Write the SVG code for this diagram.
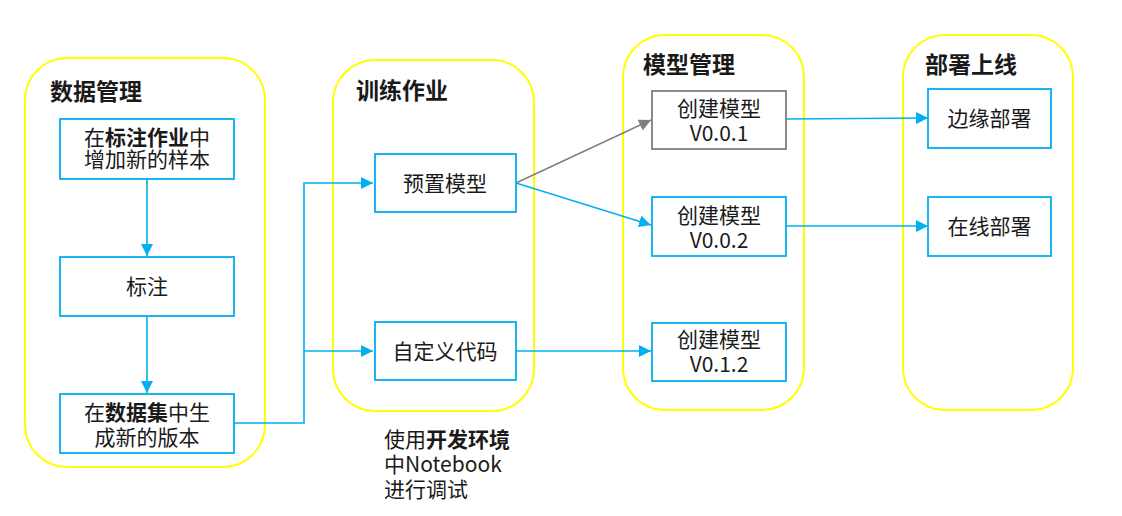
<svg xmlns="http://www.w3.org/2000/svg" width="1122" height="516" viewBox="0 0 1122 516">
<style>
.bg{fill:#ffffff}
.grp{fill:none;stroke:#ffff00;stroke-width:2}
.box{fill:#ffffff;stroke:#00b0f0;stroke-width:1.8}
.gbox{fill:#ffffff;stroke:#7f7f7f;stroke-width:1.8}
text{font-family:"Noto Sans CJK SC","Microsoft YaHei",sans-serif;fill:#1a1a1a}
.t{font-size:23px;font-weight:bold}
.l{font-size:21px;text-anchor:middle}
.n{font-size:21px}
.c{fill:none;stroke:#00b0f0;stroke-width:1.6}
.g{fill:none;stroke:#7f7f7f;stroke-width:1.4}
</style>
<defs>
<marker id="ab" markerUnits="userSpaceOnUse" markerWidth="14" markerHeight="12" refX="12" refY="6" orient="auto"><path d="M0,0 L12,6 L0,12 Z" fill="#00b0f0"/></marker>
<marker id="ag" markerUnits="userSpaceOnUse" markerWidth="14" markerHeight="12" refX="12" refY="6" orient="auto"><path d="M0,0 L12,6 L0,12 Z" fill="#7f7f7f"/></marker>
</defs>
<rect class="bg" x="0" y="0" width="1122" height="516"/>

<g id="group-data">
<rect class="grp" x="25" y="58" width="240" height="409" rx="42"/>
<text class="t" x="50" y="100">数据管理</text>
</g>
<g id="group-train">
<rect class="grp" x="333" y="60" width="201" height="351" rx="42"/>
<text class="t" x="356" y="99">训练作业</text>
</g>
<g id="group-model">
<rect class="grp" x="623" y="35" width="181" height="375" rx="42"/>
<text class="t" x="643" y="73">模型管理</text>
</g>
<g id="group-deploy">
<rect class="grp" x="903" y="35" width="170" height="375" rx="42"/>
<text class="t" x="925" y="73">部署上线</text>
</g>

<g id="connectors">
<line class="c" x1="147" y1="179" x2="147" y2="256" marker-end="url(#ab)"/>
<line class="c" x1="147" y1="316" x2="147" y2="393" marker-end="url(#ab)"/>
<polyline class="c" points="234,423 304,423 304,183 373,183" marker-end="url(#ab)"/>
<polyline class="c" points="304,351 373,351" marker-end="url(#ab)"/>
<line class="g" x1="516" y1="183" x2="651" y2="120" marker-end="url(#ag)"/>
<line class="c" x1="516" y1="183" x2="651" y2="225" marker-end="url(#ab)"/>
<line class="c" x1="516" y1="351" x2="651" y2="351" marker-end="url(#ab)"/>
<line class="c" x1="786" y1="119" x2="928" y2="118" marker-end="url(#ab)"/>
<line class="c" x1="786" y1="226" x2="928" y2="226" marker-end="url(#ab)"/>
</g>

<g id="node-add-samples">
<rect class="box" x="60" y="119" width="174" height="60"/>
<text class="l" x="147" y="145">在<tspan font-weight="bold">标注作业</tspan>中</text>
<text class="l" x="147" y="167">增加新的样本</text>
</g>
<g id="node-label">
<rect class="box" x="60" y="257" width="174" height="59"/>
<text class="l" x="147" y="294">标注</text>
</g>
<g id="node-new-version">
<rect class="box" x="60" y="394" width="174" height="59"/>
<text class="l" x="147" y="420">在<tspan font-weight="bold">数据集</tspan>中生</text>
<text class="l" x="147" y="445">成新的版本</text>
</g>

<g id="node-preset">
<rect class="box" x="375" y="154" width="141" height="58"/>
<text class="l" x="445" y="191">预置模型</text>
</g>
<g id="node-custom">
<rect class="box" x="375" y="322" width="141" height="58"/>
<text class="l" x="445" y="359">自定义代码</text>
</g>
<g id="note-notebook">
<text class="n" x="384" y="447">使用<tspan font-weight="bold">开发环境</tspan></text>
<text class="n" x="384" y="472">中Notebook</text>
<text class="n" x="384" y="497">进行调试</text>
</g>

<g id="node-v001">
<rect class="gbox" x="652" y="91" width="134" height="58"/>
<text class="l" x="719" y="116">创建模型</text>
<text class="l" x="719" y="141">V0.0.1</text>
</g>
<g id="node-v002">
<rect class="box" x="652" y="197" width="134" height="59"/>
<text class="l" x="719" y="223">创建模型</text>
<text class="l" x="719" y="248">V0.0.2</text>
</g>
<g id="node-v012">
<rect class="box" x="652" y="323" width="134" height="58"/>
<text class="l" x="719" y="347">创建模型</text>
<text class="l" x="719" y="372">V0.1.2</text>
</g>

<g id="node-edge">
<rect class="box" x="928" y="89" width="123" height="59"/>
<text class="l" x="989.5" y="126">边缘部署</text>
</g>
<g id="node-online">
<rect class="box" x="928" y="197" width="123" height="59"/>
<text class="l" x="989.5" y="234">在线部署</text>
</g>
</svg>
